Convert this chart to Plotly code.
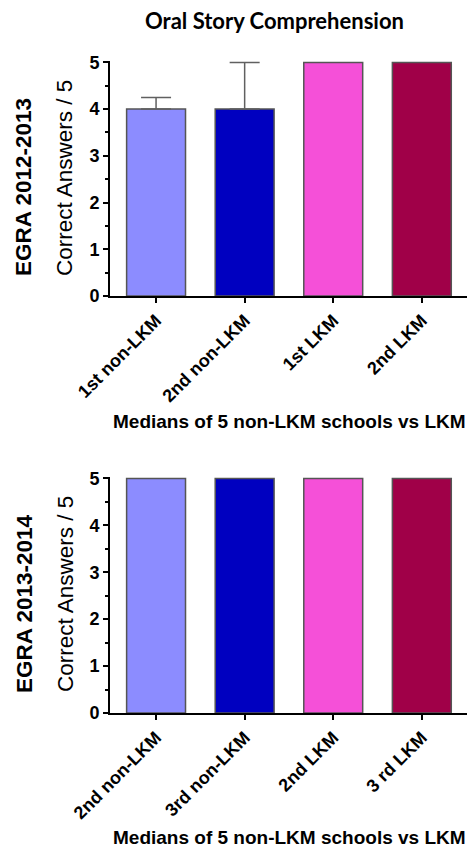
import plotly.graph_objects as go

# EGRA oral story comprehension: medians of correct answers (out of 5)
cats_1213 = ["1st non-LKM", "2nd non-LKM", "1st LKM", "2nd LKM"]
med_1213 = [4, 4, 5, 5]
err_up_1213 = [0.25, 1.0, 0, 0]

cats_1314 = ["2nd non-LKM", "3rd non-LKM", "2nd LKM", "3 rd LKM"]
med_1314 = [5, 5, 5, 5]
err_up_1314 = [0, 0, 0, 0]

bar_colors = ["#8C8CFF", "#0000C0", "#F550D8", "#A00048"]

W, H = 471, 848
FONT = "Liberation Sans, Arial, sans-serif"
EDGE = "#555555"

fig = go.Figure()


def add_panel(cats, vals, errs, xa, ya):
    for c, v, e, col in zip(cats, vals, errs, bar_colors):
        tr = dict(
            x=[c], y=[v], xaxis=xa, yaxis=ya, width=0.665,
            marker=dict(color=col, line=dict(color=EDGE, width=1.5)),
            showlegend=False, hoverinfo="x+y",
        )
        if e > 0:
            tr["error_y"] = dict(type="data", array=[e], arrayminus=[0],
                                 symmetric=False, color="#606060",
                                 thickness=1.5, width=15)
        fig.add_trace(go.Bar(**tr))


add_panel(cats_1213, med_1213, err_up_1213, "x", "y")
add_panel(cats_1314, med_1314, err_up_1314, "x2", "y2")

xdom = [110 / W, 467 / W]


def px_dom(top_px, bottom_px):
    return [(H - bottom_px) / H, (H - top_px) / H]


xaxis_common = dict(
    domain=xdom, range=[-0.52, 3.51], showline=True, linecolor="black",
    linewidth=2, ticks="outside", ticklen=5, tickwidth=2, tickcolor="black",
    tickangle=-45, showgrid=False, zeroline=False, automargin=False,
    tickfont=dict(family=FONT, size=18, color="black", weight="bold"),
)
yaxis_common = dict(
    range=[0, 5.03], tickvals=[0, 1, 2, 3, 4, 5], showline=True,
    linecolor="black", linewidth=2, ticks="outside", ticklen=5, tickwidth=2,
    tickcolor="black", showgrid=False, zeroline=False, automargin=False,
    minor=dict(tickvals=[0.5, 1.5, 2.5, 3.5, 4.5], ticks="outside",
               ticklen=3, tickwidth=1.5, tickcolor="black"),
    tickfont=dict(family=FONT, size=18, color="black", weight="bold"),
)

fig.update_layout(
    template="none",
    width=W, height=H, margin=dict(l=0, r=0, t=0, b=0, autoexpand=False),
    paper_bgcolor="white", plot_bgcolor="white", barmode="overlay",
    xaxis=dict(anchor="y", **xaxis_common),
    yaxis=dict(anchor="x", domain=px_dom(61, 296), **yaxis_common),
    xaxis2=dict(anchor="y2", **xaxis_common),
    yaxis2=dict(anchor="x2", domain=px_dom(477, 713), **yaxis_common),
)

ann = []
# Title
ann.append(dict(text="<b>Oral Story Comprehension</b>", x=274 / W, y=(H - 20) / H,
                xref="paper", yref="paper", showarrow=False,
                xanchor="center", yanchor="middle",
                font=dict(family="Lato, Open Sans, sans-serif", size=22, color="black")))
# Y-axis titles
for txt, xc, yc, bold, size in [
    ("Correct Answers / 5", 65, 178, False, 22.5),
    ("EGRA 2012-2013", 23, 187, True, 22.5),
    ("Correct Answers / 5", 65, 594, False, 22.5),
    ("EGRA 2013-2014", 24, 604, True, 22.5),
]:
    ann.append(dict(text=f"<b>{txt}</b>" if bold else txt, x=xc / W, y=(H - yc) / H,
                    xref="paper", yref="paper", showarrow=False, textangle=-90,
                    xanchor="center", yanchor="middle",
                    font=dict(family=FONT, size=size, color="black")))
# X-axis titles
for yc in (421, 837):
    ann.append(dict(text="<b>Medians of 5 non-LKM schools vs LKM</b>",
                    x=289 / W, y=(H - yc) / H, xref="paper", yref="paper",
                    showarrow=False, xanchor="center", yanchor="middle",
                    font=dict(family=FONT, size=19, color="black")))
fig.update_layout(annotations=ann)

fig.write_html("out.html")
